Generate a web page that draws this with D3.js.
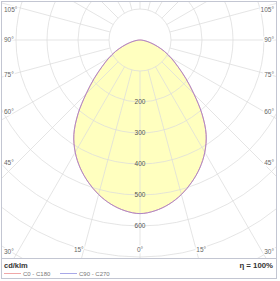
<!DOCTYPE html>
<html>
<head>
<meta charset="utf-8">
<script src="https://cdn.jsdelivr.net/npm/d3@7"></script>
<style>
body { margin: 0; background: #fff; }
svg { display: block; font-family: "Liberation Sans", Arial, sans-serif; }
</style>
</head>
<body>
<div id="chart"></div>
<script>
// gamma angles (deg from nadir) and intensities in cd/klm
var gammas = [0, 5, 10, 15, 20, 25, 30, 35, 40, 45, 50, 55, 60, 65, 70, 75, 80, 85, 90];
var c0c180 = [560, 553, 538, 516, 488, 456, 418, 372, 311, 246, 193, 149, 116, 87, 59, 36, 19, 7, 0];
var c90c270 = [560, 553, 538, 516, 488, 456, 418, 372, 311, 246, 193, 149, 116, 87, 59, 36, 19, 7, 0];
var rings = [100, 200, 300, 400, 500, 600, 700, 800, 900, 1000];
var ringLabels = [200, 300, 400, 500, 600];
var angleTicks = [0, 15, 30, 45, 60, 75, 90, 105];
var unitLabel = "cd/klm";
var etaLabel = "η = 100%";
var legendNames = ["C0 - C180", "C90 - C270"];

var W = 280, H = 281;
var cx = 140, cy = 40;

var svg = d3.select("#chart").append("svg")
	.attr("width", W).attr("height", H);

var r = d3.scaleLinear().domain([0, 100]).range([0, 31]);

function px(g, v) { return cx + r(v) * Math.sin(g * Math.PI / 180); }
function py(g, v) { return cy + r(v) * Math.cos(g * Math.PI / 180); }

svg.append("clipPath").attr("id", "clip")
	.append("rect").attr("x", 2).attr("y", 2).attr("width", 274).attr("height", 256);

var plot = svg.append("g").attr("clip-path", "url(#clip)");

// build closed curve points, left side then right side
function curvePts(vals) {
	var pts = [];
	for (var i = gammas.length - 1; i >= 0; i--) pts.push([-gammas[i], vals[i]]);
	for (var j = 1; j < gammas.length; j++) pts.push([gammas[j], vals[j]]);
	return pts;
}

var line = d3.line()
	.x(function(d) { return px(d[0], d[1]); })
	.y(function(d) { return py(d[0], d[1]); })
	.curve(d3.curveCatmullRom);

// fill
plot.append("path")
	.attr("d", line(curvePts(c0c180)))
	.attr("fill", "#ffffbf");

// grid
var grid = plot.append("g").attr("stroke", "#dcdcdc").attr("stroke-opacity", 0.75).attr("fill", "none");
rings.forEach(function(v) {
	grid.append("circle").attr("cx", cx).attr("cy", cy).attr("r", r(v));
});
for (var a = 0; a < 360; a += 15) {
	grid.append("line")
		.attr("x1", px(a, 100)).attr("y1", py(a, 100))
		.attr("x2", px(a, 1200)).attr("y2", py(a, 1200));
}

// curves
plot.append("path")
	.attr("d", line(curvePts(c0c180)))
	.attr("fill", "none").attr("stroke", "#f09a9a").attr("stroke-width", 1);
plot.append("path")
	.attr("d", line(curvePts(c90c270)))
	.attr("fill", "none").attr("stroke", "#9080dc").attr("stroke-width", 1).attr("stroke-opacity", 0.7);

// ring labels
plot.selectAll("text.ring").data(ringLabels).enter().append("text")
	.attr("x", cx).attr("y", function(d) { return cy + r(d); })
	.attr("dy", "0.35em")
	.attr("text-anchor", "middle")
	.attr("font-size", 6.5).attr("fill", "#555")
	.text(function(d) { return d; });

// angle labels
var lab = svg.append("g").attr("font-size", 6.5).attr("fill", "#666");
var bottomY = 250, sideX = 19;
angleTicks.forEach(function(t) {
	[-1, 1].forEach(function(s) {
		if (t === 0 && s === 1) return;
		var rad = t * Math.PI / 180;
		var yAtSide = cy + (cx - sideX) / Math.tan(rad);
		var txt = lab.append("text").attr("dy", "0.35em").text(t + "°");
		if (t === 0) {
			txt.attr("x", cx).attr("y", bottomY).attr("text-anchor", "middle");
		} else if (t < 90 && yAtSide > bottomY) {
			var xb = (bottomY - cy) * Math.tan(rad);
			txt.attr("x", cx + s * xb).attr("y", bottomY)
				.attr("text-anchor", s < 0 ? "end" : "start");
		} else {
			var yy = t === 90 ? cy : Math.max(9, yAtSide + 2);
			txt.attr("x", s < 0 ? 4 : 274).attr("y", yy)
				.attr("text-anchor", s < 0 ? "start" : "end");
		}
	});
});
lab.selectAll("text").attr("stroke", "#fff").attr("stroke-width", 3)
	.attr("paint-order", "stroke");

// frame
svg.append("rect").attr("x", 1.5).attr("y", 1.5).attr("width", 275).attr("height", 277)
	.attr("fill", "none").attr("stroke", "#c3c6d2");
svg.append("line").attr("x1", 1.5).attr("x2", 276.5).attr("y1", 258.5).attr("y2", 258.5)
	.attr("stroke", "#c3c6d2");

// legend
svg.append("text").attr("x", 4).attr("y", 268).attr("font-size", 7.5).attr("font-weight", "bold")
	.attr("fill", "#333").text(unitLabel);
svg.append("text").attr("x", 273).attr("y", 268).attr("font-size", 7.8).attr("font-weight", "bold")
	.attr("text-anchor", "end").attr("fill", "#333").text(etaLabel);

var legColors = ["#f0a8a8", "#a8a8e8"];
var legX = [4, 60];
legendNames.forEach(function(n, i) {
	svg.append("line").attr("x1", legX[i]).attr("x2", legX[i] + 17)
		.attr("y1", 273.5).attr("y2", 273.5).attr("stroke", legColors[i]);
	svg.append("text").attr("x", legX[i] + 19).attr("y", 276).attr("font-size", 6)
		.attr("fill", "#777").text(n);
});
</script>
</body>
</html>
